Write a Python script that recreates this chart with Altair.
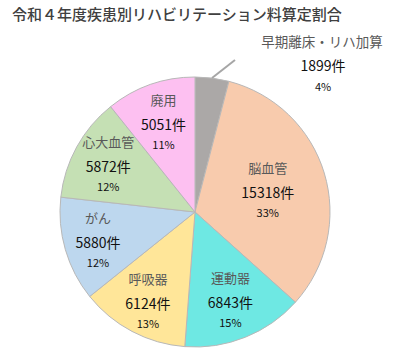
import altair as alt
import pandas as pd

title_text = "令和４年度疾患別リハビリテーション料算定割合"
categories = ["早期離床・リハ加算", "脳血管", "運動器", "呼吸器", "がん", "心大血管", "廃用"]
counts = [1899, 15318, 6843, 6124, 5880, 5872, 5051]
pct_labels = ["4%", "33%", "15%", "13%", "12%", "12%", "11%"]
colors = ["#ABA8A7", "#F8CBAD", "#6EE8E3", "#FFE699", "#BDD7EE", "#C5E0B4", "#FDC0F1"]

FONT = "Noto Sans CJK JP"
CX, CY, R = 195, 212, 135

df = pd.DataFrame({
    "category": categories,
    "count": counts,
    "pct": pct_labels,
    "idx": list(range(len(categories))),
})
df["count_label"] = [f"{c}件" for c in counts]

base = (
    alt.Chart(df)
    .transform_window(cum="sum(count)", sort=[alt.SortField("idx", order="ascending")])
    .transform_joinaggregate(total="sum(count)")
    .transform_calculate(
        a0="2 * PI * (datum.cum - datum.count) / datum.total",
        a1="2 * PI * datum.cum / datum.total",
        amid="2 * PI * (datum.cum - datum.count / 2) / datum.total",
        lr="datum.category == '脳血管' ? 76 : (datum.category == '呼吸器' || datum.category == 'がん' ? 101 : (datum.category == '心大血管' ? 99 : 95))",
        name_in="datum.idx == 0 ? '' : datum.category",
        count_in="datum.idx == 0 ? '' : datum.count_label",
        pct_in="datum.idx == 0 ? '' : datum.pct",
    )
    .encode(x=alt.value(CX), y=alt.value(CY))
)

arc = base.mark_arc(outerRadius=R, stroke="#B8B8B8", strokeWidth=1).encode(
    theta=alt.Theta("a0:Q", scale=None),
    theta2="a1:Q",
    color=alt.Color("category:N", scale=alt.Scale(domain=categories, range=colors), legend=None),
)

lab = base.encode(
    theta=alt.Theta("amid:Q", scale=None),
    radius=alt.Radius("lr:Q", scale=None),
)

name_txt = lab.mark_text(font=FONT, fontSize=13, color="#595959", dy=-21).encode(text="name_in:N")
count_txt = lab.mark_text(font=FONT, fontSize=14, color="#111111", dy=4).encode(text="count_in:N")
pct_txt = lab.mark_text(font=FONT, fontSize=11, color="#111111", dy=24).encode(text="pct_in:N")

# outside label for the small slice
out_df = df[df["idx"] == 0]
out_base = alt.Chart(out_df)
out_name = out_base.mark_text(font=FONT, fontSize=13.5, color="#595959").encode(
    text="category:N", x=alt.value(322), y=alt.value(43))
out_count = out_base.mark_text(font=FONT, fontSize=14, color="#111111").encode(
    text="count_label:N", x=alt.value(323), y=alt.value(67))
out_pct = out_base.mark_text(font=FONT, fontSize=11, color="#111111").encode(
    text="pct:N", x=alt.value(323), y=alt.value(88))
leader = out_base.mark_rule(color="#A6A6A6", strokeWidth=2).encode(
    x=alt.value(212), y=alt.value(78), x2=alt.value(235), y2=alt.value(60))

title = alt.Chart(pd.DataFrame({"t": [title_text]})).mark_text(
    font=FONT, fontSize=15, color="#404040", align="left", baseline="middle", fontWeight=500
).encode(text="t:N", x=alt.value(12), y=alt.value(15))

chart = alt.layer(arc, name_txt, count_txt, pct_txt, leader, out_name, out_count, out_pct, title).properties(
    width=400, height=355,
    autosize=alt.AutoSizeParams(type="none"),
    padding=0,
    background="white",
).configure_view(stroke=None)

chart.save("out.html", embed_options={"renderer": "svg", "actions": False})
